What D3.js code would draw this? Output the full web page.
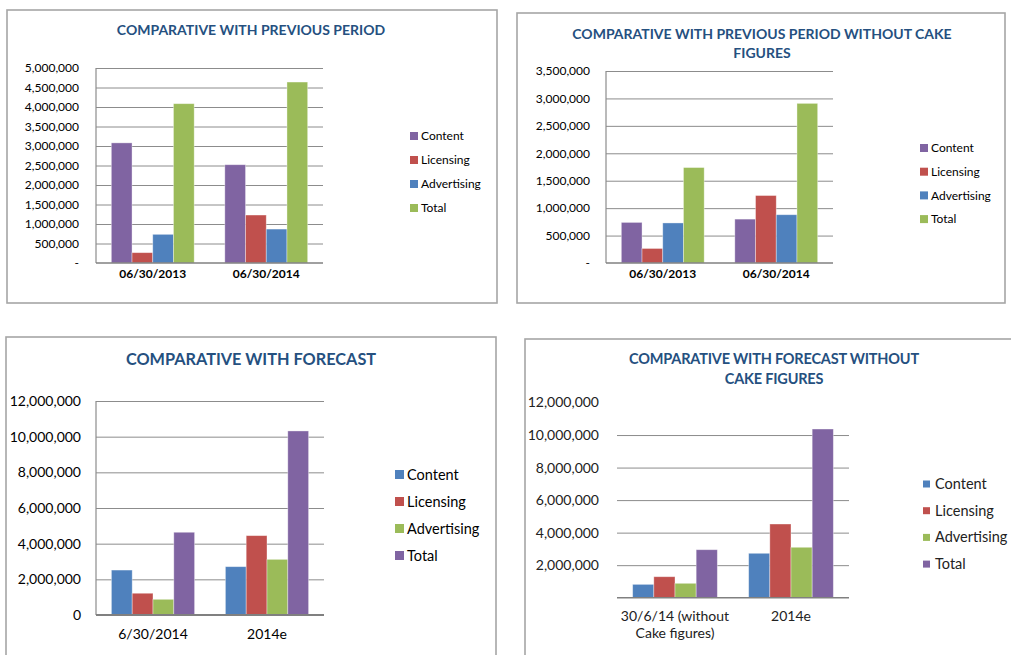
<!DOCTYPE html>
<html>
<head>
<meta charset="utf-8">
<script src="https://cdn.jsdelivr.net/npm/d3@7"></script>
<style>
  html, body { margin: 0; padding: 0; background: #fff; }
  svg { display: block; font-family: Lato, "Open Sans", sans-serif; }
</style>
</head>
<body>
<svg id="chart" width="1011" height="655"></svg>
<script>
// ---------- DATA ----------
const seriesNames = ["Content", "Licensing", "Advertising", "Total"];

const prevCategories = ["06/30/2013", "06/30/2014"];
const prevContent     = [3080000, 2520000];
const prevLicensing   = [265000, 1230000];
const prevAdvertising = [735000, 870000];
const prevTotal       = [4085000, 4640000];

const prevNoCakeCategories = ["06/30/2013", "06/30/2014"];
const prevNoCakeContent     = [740000, 800000];
const prevNoCakeLicensing   = [265000, 1230000];
const prevNoCakeAdvertising = [730000, 880000];
const prevNoCakeTotal       = [1740000, 2910000];

const fcCategories = ["6/30/2014", "2014e"];
const fcContent     = [2520000, 2710000];
const fcLicensing   = [1220000, 4450000];
const fcAdvertising = [880000, 3120000];
const fcTotal       = [4640000, 10320000];

const fcNoCakeCategories = [["30/6/14 (without", "Cake figures)"], ["2014e"]];
const fcNoCakeContent     = [820000, 2730000];
const fcNoCakeLicensing   = [1290000, 4530000];
const fcNoCakeAdvertising = [885000, 3100000];
const fcNoCakeTotal       = [2950000, 10370000];

const ticks5M  = d3.range(0, 5000001, 500000);
const ticks35M = d3.range(0, 3500001, 500000);
const ticks12M = d3.range(0, 12000001, 2000000);

// ---------- COLOURS ----------
const PURPLE = "#8064A2", RED = "#C0504D", BLUE = "#4F81BD", GREEN = "#9BBB59";
const colorsA = [PURPLE, RED, BLUE, GREEN];
const colorsB = [BLUE, RED, GREEN, PURPLE];
const TITLE_COLOR = "#25507F";

const svg = d3.select("#chart");

function drawChart(cfg) {
  const g = svg.append("g");
  // frame
  g.append("rect")
    .attr("x", cfg.frame.x).attr("y", cfg.frame.y)
    .attr("width", cfg.frame.w).attr("height", cfg.frame.h)
    .attr("fill", "#fff").attr("stroke", "#A6A6A6").attr("stroke-width", 1.6);

  // title
  const t = g.append("text")
    .attr("text-anchor", "middle")
    .attr("fill", TITLE_COLOR)
    .attr("font-weight", "bold")
    .attr("font-size", cfg.titleSize)
    .attr("letter-spacing", cfg.titleSpacing || 0);
  cfg.title.forEach((line, i) => {
    t.append("tspan").attr("x", cfg.titleX).attr("y", cfg.titleY + i * cfg.titleLH).text(line);
  });

  const p = cfg.plot;
  const y = d3.scaleLinear().domain([0, cfg.yMax]).range([p.y1, p.y0]);
  const x0 = d3.scaleBand().domain(d3.range(cfg.categories.length))
    .range([p.x0, p.x1]).paddingInner(0.27).paddingOuter(0.135);
  const x1 = d3.scaleBand().domain(seriesNames).range([0, x0.bandwidth()]);

  // gridlines
  const gridTicks = cfg.ticks.filter(v => v > 0 && (cfg.topGrid !== false || v < cfg.yMax));
  const grid = g.append("g")
    .attr("transform", `translate(${p.x0},0)`)
    .call(d3.axisLeft(y).tickValues(gridTicks).tickSize(-(p.x1 - p.x0)).tickFormat(""));
  grid.select(".domain").remove();
  grid.selectAll(".tick line").attr("stroke", "#8C8C8C").attr("stroke-width", 1);

  // y labels
  const yAx = g.append("g")
    .attr("transform", `translate(${cfg.yLabelX},0)`)
    .call(d3.axisLeft(y).tickValues(cfg.ticks).tickSize(0).tickPadding(0)
      .tickFormat(v => v === 0 ? cfg.zeroLabel : d3.format(",")(v)));
  yAx.select(".domain").remove();
  yAx.attr("font-family", null);
  yAx.selectAll(".tick text")
    .attr("font-size", cfg.yFont).attr("fill", cfg.textColor || "#000");
  if (cfg.zeroLabel === "") yAx.selectAll(".tick").filter(d => d === 0).remove();

  // bars
  const data = cfg.categories.map((c, i) => ({ i, vals: cfg.values.map((s, k) => ({ k, name: seriesNames[k], v: s[i] })) }));
  const groups = g.append("g").selectAll("g").data(data).join("g")
    .attr("transform", d => `translate(${x0(d.i)},0)`);
  groups.selectAll("rect").data(d => d.vals).join("rect")
    .attr("x", d => x1(d.name))
    .attr("y", d => y(d.v))
    .attr("width", x1.bandwidth())
    .attr("height", d => y(0) - y(d.v))
    .attr("fill", d => cfg.colors[d.k])
    .attr("stroke", "rgba(255,255,255,0.45)").attr("stroke-width", 0.8);

  // axes lines
  if (cfg.leftAxis !== false) {
    g.append("line").attr("x1", p.x0).attr("x2", p.x0).attr("y1", y(cfg.yMax)).attr("y2", y(0))
      .attr("stroke", "#8C8C8C").attr("stroke-width", 1.2);
  }
  g.append("line").attr("x1", p.x0).attr("x2", p.x1).attr("y1", y(0)).attr("y2", y(0))
    .attr("stroke", "#808080").attr("stroke-width", cfg.baseWidth || 1.5);

  // x labels
  const xl = g.append("g").selectAll("text").data(cfg.categories).join("text")
    .attr("text-anchor", "middle")
    .attr("font-size", cfg.xFont)
    .attr("font-weight", cfg.xBold ? "bold" : "normal")
    .attr("fill", cfg.textColor || "#000");
  xl.each(function (c, i) {
    const lines = Array.isArray(c) ? c : [c];
    lines.forEach((line, j) => {
      d3.select(this).append("tspan")
        .attr("x", x0(i) + x0.bandwidth() / 2)
        .attr("y", cfg.xLabelY + j * cfg.xLH)
        .text(line);
    });
  });

  // legend
  const lg = g.append("g").selectAll("g").data(seriesNames).join("g")
    .attr("transform", (d, i) => `translate(${cfg.legend.x},${cfg.legend.y + i * cfg.legend.step})`);
  lg.append("rect")
    .attr("x", 0).attr("y", -cfg.legend.sq / 2)
    .attr("width", cfg.legend.sq).attr("height", cfg.legend.sq)
    .attr("fill", (d, i) => cfg.colors[i]);
  lg.append("text")
    .attr("x", cfg.legend.tx).attr("y", 0).attr("dy", "0.35em")
    .attr("font-size", cfg.legend.font)
    .attr("fill", cfg.textColor || "#000")
    .text(d => d);
}

drawChart({
  frame: { x: 7, y: 10, w: 490, h: 293 },
  title: ["COMPARATIVE WITH PREVIOUS PERIOD"], titleX: 251, titleY: 35, titleLH: 19, titleSize: 14,
  plot: { x0: 96, x1: 323, y0: 68, y1: 263 },
  yMax: 5000000, ticks: ticks5M, zeroLabel: "-", yLabelX: 79, yFont: 12,
  categories: prevCategories,
  values: [prevContent, prevLicensing, prevAdvertising, prevTotal],
  colors: colorsA, xLabelY: 278, xFont: 12, xBold: true, xLH: 14,
  legend: { x: 410, y: 136, step: 24, sq: 8, tx: 11, font: 12 }
});

drawChart({
  frame: { x: 517, y: 13, w: 488, h: 290 },
  title: ["COMPARATIVE WITH PREVIOUS PERIOD WITHOUT CAKE", "FIGURES"], titleX: 762, titleY: 39, titleLH: 19, titleSize: 14,
  plot: { x0: 606, x1: 833, y0: 71, y1: 263 },
  yMax: 3500000, ticks: ticks35M, zeroLabel: "-", yLabelX: 590, yFont: 12,
  categories: prevNoCakeCategories,
  values: [prevNoCakeContent, prevNoCakeLicensing, prevNoCakeAdvertising, prevNoCakeTotal],
  colors: colorsA, xLabelY: 278, xFont: 12, xBold: true, xLH: 14,
  legend: { x: 920, y: 148, step: 23.7, sq: 8, tx: 11, font: 12 }
});

drawChart({
  frame: { x: 6, y: 337, w: 490, h: 340 },
  title: ["COMPARATIVE WITH FORECAST"], titleX: 251, titleY: 365, titleLH: 19, titleSize: 16.3,
  plot: { x0: 96, x1: 324, y0: 401, y1: 615 },
  yMax: 12000000, ticks: ticks12M, zeroLabel: "0", yLabelX: 81, yFont: 14,
  categories: fcCategories,
  values: [fcContent, fcLicensing, fcAdvertising, fcTotal],
  colors: colorsB, xLabelY: 639, xFont: 14, xBold: false, xLH: 16, baseWidth: 2,
  legend: { x: 395, y: 474.5, step: 27, sq: 9, tx: 12, font: 14.5 }
});

drawChart({
  frame: { x: 525, y: 339, w: 520, h: 340 },
  title: ["COMPARATIVE WITH FORECAST WITHOUT", "CAKE FIGURES"], titleX: 774, titleY: 364, titleLH: 20, titleSize: 14.5, titleSpacing: -0.2,
  plot: { x0: 617, x1: 849, y0: 402.5, y1: 597.7 },
  yMax: 12000000, ticks: ticks12M, zeroLabel: "", yLabelX: 599, yFont: 14, topGrid: false, leftAxis: false,
  textColor: "#222",
  categories: fcNoCakeCategories,
  values: [fcNoCakeContent, fcNoCakeLicensing, fcNoCakeAdvertising, fcNoCakeTotal],
  colors: colorsB, xLabelY: 621, xFont: 14, xBold: false, xLH: 17, baseWidth: 1.5,
  legend: { x: 923, y: 484, step: 26.7, sq: 7, tx: 12, font: 14.5 }
});
</script>
</body>
</html>
